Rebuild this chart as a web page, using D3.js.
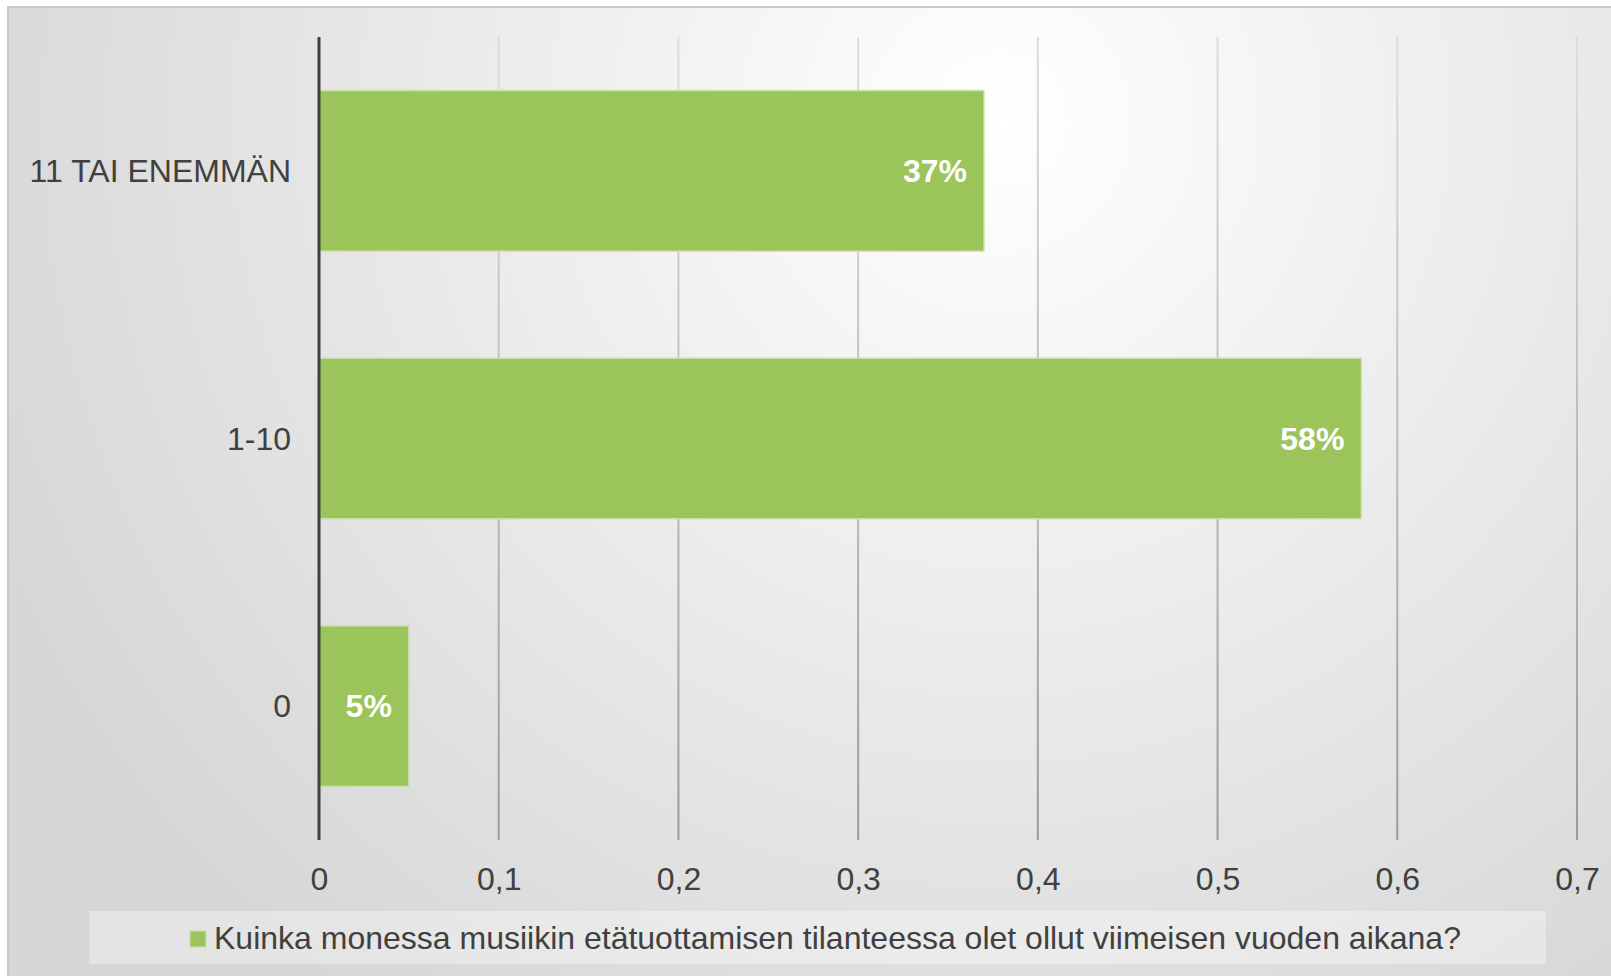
<!DOCTYPE html>
<html><head><meta charset="utf-8">
<script src="https://cdn.jsdelivr.net/npm/d3@7"></script>
<style>html,body{margin:0;padding:0;background:#fff;}svg{display:block;}</style>
</head><body>
<script>
const categories = ["11 TAI ENEMMÄN", "1-10", "0"];
const values = [0.37, 0.58, 0.05];
const dataLabels = ["37%", "58%", "5%"];
const tickValues = [0, 0.1, 0.2, 0.3, 0.4, 0.5, 0.6, 0.7];
const tickLabels = ["0", "0,1", "0,2", "0,3", "0,4", "0,5", "0,6", "0,7"];
const legendText = "Kuinka monessa musiikin etätuottamisen tilanteessa olet ollut viimeisen vuoden aikana?";

(function(){
const W = 1611, H = 976;
const FONT = "'Liberation Sans', Arial, sans-serif";
const svg = d3.select("body").append("svg").attr("width", W).attr("height", H);
const defs = svg.append("defs");
const rg = defs.append("radialGradient").attr("id","bg").attr("gradientUnits","userSpaceOnUse")
  .attr("cx", 1000).attr("cy", 120).attr("r", 1100);
rg.append("stop").attr("offset","0").attr("stop-color","#ffffff");
rg.append("stop").attr("offset","1").attr("stop-color","#d6d6d6");
const gg = defs.append("linearGradient").attr("id","grid").attr("gradientUnits","userSpaceOnUse")
  .attr("x1",0).attr("y1",37).attr("x2",0).attr("y2",840);
gg.append("stop").attr("offset","0").attr("stop-color","#dedede");
gg.append("stop").attr("offset","1").attr("stop-color","#9a9a9a");

svg.append("rect").attr("x",8).attr("y",7).attr("width",W).attr("height",H)
  .attr("fill","url(#bg)").attr("stroke","#c8c8c8").attr("stroke-width",2);

const pL = 319, pR = 1577, pT = 37, pB = 840;
const x = d3.scaleLinear().domain([0, 0.7]).range([pL, pR]);
const y = d3.scaleBand().domain(categories).range([pT, pB]).paddingInner(0.4).paddingOuter(0.2);

// gridlines
svg.append("g").selectAll("line").data(tickValues.slice(1)).join("line")
  .attr("x1", d => x(d)).attr("x2", d => x(d)).attr("y1", pT).attr("y2", pB)
  .attr("stroke","url(#grid)").attr("stroke-width",2);

// bars
svg.append("g").selectAll("rect").data(values).join("rect")
  .attr("x", x(0)).attr("y", (d,i) => y(categories[i]))
  .attr("width", d => x(d) - x(0)).attr("height", y.bandwidth())
  .attr("fill","#9bc45a").attr("stroke","#c9e2a8").attr("stroke-width",1.5);

// data labels
svg.append("g").selectAll("text").data(values).join("text")
  .attr("x", d => x(d) - 17).attr("y", (d,i) => y(categories[i]) + y.bandwidth()/2)
  .attr("text-anchor","end").attr("dominant-baseline","central")
  .attr("font-family",FONT).attr("font-weight","bold")
  .attr("font-size",32).attr("fill","#ffffff")
  .text((d,i) => dataLabels[i]);

// category axis
svg.append("line").attr("x1", x(0)).attr("x2", x(0)).attr("y1", pT).attr("y2", pB)
  .attr("stroke","#404040").attr("stroke-width",3);
svg.append("g").selectAll("text").data(categories).join("text")
  .attr("x", 291).attr("y", d => y(d) + y.bandwidth()/2)
  .attr("text-anchor","end").attr("dominant-baseline","central")
  .attr("font-family",FONT).attr("font-size",32).attr("fill","#404040")
  .text(d => d);

// value axis labels
const xAxis = d3.axisBottom(x).tickValues(tickValues).tickSize(0).tickFormat((d,i) => tickLabels[i]);
const ga = svg.append("g").attr("transform", `translate(0, ${pB + 26})`).call(xAxis);
ga.select(".domain").remove();
ga.selectAll("text").attr("font-family",FONT)
  .attr("font-size",32).attr("fill","#404040").attr("dy","0.66em");

// legend
svg.append("rect").attr("x",89).attr("y",911).attr("width",1457).attr("height",53)
  .attr("fill","#ffffff").attr("fill-opacity",0.35);
svg.append("rect").attr("x",190).attr("y",931).attr("width",16).attr("height",16)
  .attr("fill","#9bc45a").attr("stroke","#c9e2a8").attr("stroke-width",1);
svg.append("text").attr("x",214).attr("y",938).attr("dominant-baseline","central")
  .attr("font-family",FONT).attr("font-size",32).attr("fill","#404040")
  .text(legendText);
})();
</script>
</body></html>
